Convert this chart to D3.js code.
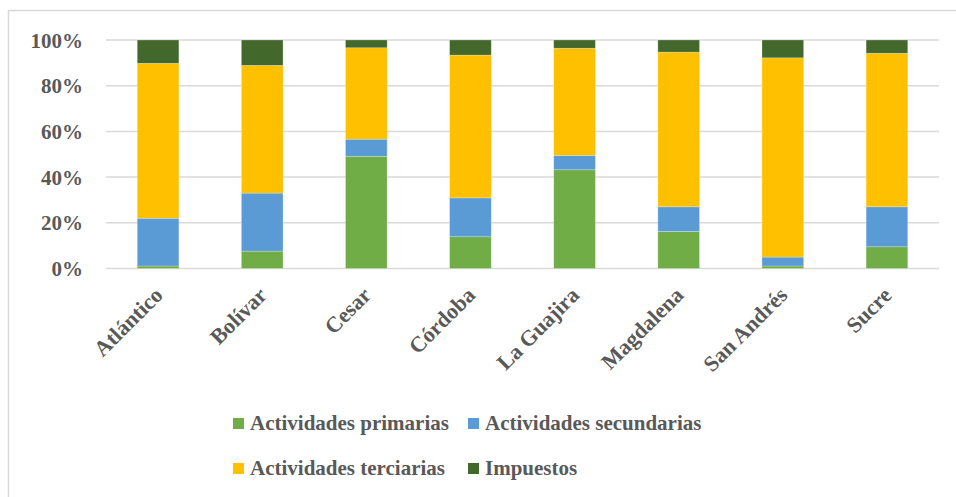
<!DOCTYPE html>
<html><head><meta charset="utf-8">
<script src="https://cdn.jsdelivr.net/npm/d3@7"></script>
<style>body{margin:0;background:#fff}svg{display:block}</style>
</head><body><svg id="c" width="956" height="497"></svg>
<script>
const categories = ["Atlántico","Bolívar","Cesar","Córdoba","La Guajira","Magdalena","San Andrés","Sucre"];
const primarias   = [1.1, 7.6, 49.1, 13.9, 43.2, 16.2, 1.1, 9.5];
const secundarias = [20.9, 25.4, 7.5, 17.0, 6.3, 10.8, 3.9, 17.5];
const terciarias  = [67.8, 55.9, 40.0, 62.5, 46.9, 67.7, 87.2, 67.2];
const impuestos   = [10.2, 11.1, 3.4, 6.6, 3.6, 5.3, 7.8, 5.8];
const seriesNames = ["Actividades primarias","Actividades secundarias","Actividades terciarias","Impuestos"];
const yTicks = [0,20,40,60,80,100];
const colors = ["#70ad47","#5b9bd5","#ffc000","#43682b"];

const svg = d3.select("#c");
const font = "'Liberation Serif', 'DejaVu Serif', serif";
const txt = "#595959";

svg.append("rect").attr("x",8.5).attr("y",10.5).attr("width",1000).attr("height",600)
  .attr("fill","none").attr("stroke","#d9d9d9").attr("stroke-width",1.5);

const x = d3.scaleBand().domain(categories).range([106,939]).paddingInner(0.6).paddingOuter(0.3);
const y = d3.scaleLinear().domain([0,100]).range([268.5,40]);

const g = svg.append("g");
g.selectAll("line.grid").data(yTicks).join("line")
  .attr("x1",106).attr("x2",939).attr("y1",d=>y(d)).attr("y2",d=>y(d))
  .attr("stroke","#d9d9d9").attr("stroke-width",1.5);

const yAxis = svg.append("g").attr("transform","translate(106,0)")
  .call(d3.axisLeft(y).tickValues(yTicks).tickSize(0).tickPadding(23).tickFormat(d=>d+"%"));
yAxis.select(".domain").remove();
yAxis.selectAll("text").attr("font-family",font).attr("font-weight","bold").attr("font-size",21).attr("fill",txt).attr("dy","0.34em");

const table = categories.map((c,i)=>({cat:c, s0:primarias[i], s1:secundarias[i], s2:terciarias[i], s3:impuestos[i]}));
const stack = d3.stack().keys(["s0","s1","s2","s3"])(table);
stack.forEach((layer,k)=>{
  g.selectAll("rect.s"+k).data(layer).join("rect")
    .attr("x",d=>x(d.data.cat)).attr("width",x.bandwidth())
    .attr("y",d=>y(d[1])).attr("height",d=>y(d[0])-y(d[1]))
    .attr("fill",colors[k]).attr("stroke","#ffffff").attr("stroke-opacity",0.35).attr("stroke-width",0.7);
});

const xAxis = svg.append("g").attr("transform","translate(0,268.5)")
  .call(d3.axisBottom(x).tickSize(0).tickPadding(0));
xAxis.select(".domain").remove();
xAxis.selectAll("text")
  .attr("font-family",font).attr("font-weight","bold").attr("font-size",22).attr("fill",txt)
  .attr("text-anchor","end").attr("dy",0).attr("y",0)
  .attr("transform","translate(6,28) rotate(-45)");

const legPos = [[233,418],[468,418],[233,463],[468,463]];
const leg = svg.append("g");
seriesNames.forEach((n,i)=>{
  const [lx,ly] = legPos[i];
  leg.append("rect").attr("x",lx).attr("y",ly).attr("width",11).attr("height",11).attr("fill",colors[i]);
  leg.append("text").attr("x",lx+17).attr("y",ly+12).text(n)
    .attr("font-family",font).attr("font-weight","bold").attr("font-size",21).attr("fill",txt);
});
</script></body></html>
